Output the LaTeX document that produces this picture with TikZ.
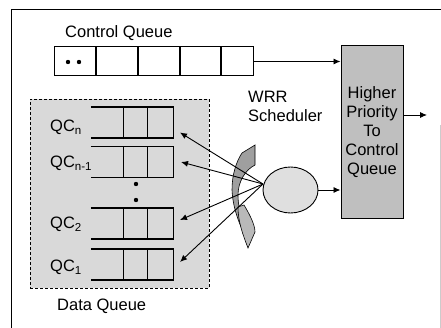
\documentclass[tikz,border=0pt]{standalone}
\usepackage{fontspec}
\setmainfont{Liberation Sans}
\usetikzlibrary{arrows.meta,shapes.geometric}
\begin{document}
\begin{tikzpicture}[x=1pt,y=-1pt,
  lbl/.style={font=\fontsize{16.5}{19}\selectfont, inner sep=0pt},
  cell/.style={draw, line width=1pt, minimum height=29pt, inner sep=0pt, anchor=west},
  qline/.style={line width=1.2pt},
  arr/.style={line width=0.9pt, -{Latex[length=7pt,width=6pt]}},
]
\useasboundingbox (0,0) rectangle (441,328);
% frame
\draw[line width=1pt] (11,328) -- (11,9.5) -- (441,9.5);
\draw[gray!40] (440,125) -- (440,328);

% control queue
\node[lbl, anchor=base west] (cql) at (65,38) {Control Queue};
\node[cell, minimum width=41pt] (c1) at (54,61.5) {};
\node[cell, minimum width=41pt] (c2) at (c1.east) {};
\node[cell, minimum width=41pt] (c3) at (c2.east) {};
\node[cell, minimum width=40pt] (c4) at (c3.east) {};
\node[cell, minimum width=32pt] (c5) at (c4.east) {};
\fill (68,62) circle (2.2);
\fill (79,62) circle (2.2);

% data queue area
\node[draw, dash pattern=on 3pt off 2pt, line width=0.8pt, fill=gray!30, minimum width=179pt, minimum height=189pt, inner sep=0pt, anchor=north west] (dq) at (30,99) {};
\node[lbl, anchor=base west] (dql) at (57,310) {Data Queue};

\foreach \n/\y in {qn/122.5, qm/162, qb/223.5, qa/264.5} {
  \node[minimum width=82pt, minimum height=30.5pt, inner sep=0pt] (\n) at (132,\y) {};
  \draw[qline] (\n.north west) -- (\n.north east) -- (\n.south east) -- (\n.south west);
  \draw[qline] ([xshift=33pt]\n.north west) -- ([xshift=33pt]\n.south west);
  \draw[qline] ([xshift=57pt]\n.north west) -- ([xshift=57pt]\n.south west);
}
\node[lbl, anchor=base west] (lqn) at (50,132) {QC\textsubscript{n}};
\node[lbl, anchor=base west] (lqm) at (50,168) {QC\textsubscript{n-1}};
\node[lbl, anchor=base west] (lqb) at (50,229) {QC\textsubscript{2}};
\node[lbl, anchor=base west] (lqa) at (50,272) {QC\textsubscript{1}};
\fill (136,184) circle (2.2);
\fill (136,200) circle (2.2);

% priority box
\node[draw, line width=1pt, fill=gray!50, minimum width=62pt, minimum height=173pt, inner sep=0pt, align=center, lbl] (prio) at (372,132.5) {Higher\\Priority\\To\\Control\\Queue};

% scheduler
\node[lbl, anchor=base west, align=left] (wrr) at (248,122) {WRR\\Scheduler};
\node[ellipse, draw, line width=0.9pt, fill=gray!25, minimum width=55pt, minimum height=46pt, inner sep=0pt] (sched) at (290.5,190) {};

% swirl
\filldraw[fill=gray!75, line width=0.6pt]
  (242,153) -- (255,145) -- (255,165)
  .. controls (245,170) and (238,182) .. (238,195)
  .. controls (238,205) and (240,212) .. (243,220) -- (246,238)
  .. controls (240,225) and (233,210) .. (232,190)
  .. controls (232,175) and (236,162) .. (242,153) -- cycle;
\filldraw[fill=gray!55, line width=0.6pt]
  (244,205) .. controls (250,215) and (255,225) .. (255,232)
  -- (248,248) .. controls (243,235) and (238,222) .. (238,207)
  -- cycle;

% connectors
\coordinate (hub) at (263,184);
\coordinate (tn) at (180,132.5);
\coordinate (tm) at (181,162);
\coordinate (tb) at (180,220);
\coordinate (ta) at (180,262);
\coordinate (out) at (427,115);
\draw[arr] (hub) -- (tn);
\draw[arr] (hub) -- (tm);
\draw[arr] (hub) -- (tb);
\draw[arr] (hub) -- (ta);
\draw[arr] (c5.east) -- (prio.west |- c5.east);
\draw[arr] (sched.east) -- (prio.west |- sched.east);
\draw[arr] (prio.east |- out) -- (out);
\end{tikzpicture}
\end{document}
